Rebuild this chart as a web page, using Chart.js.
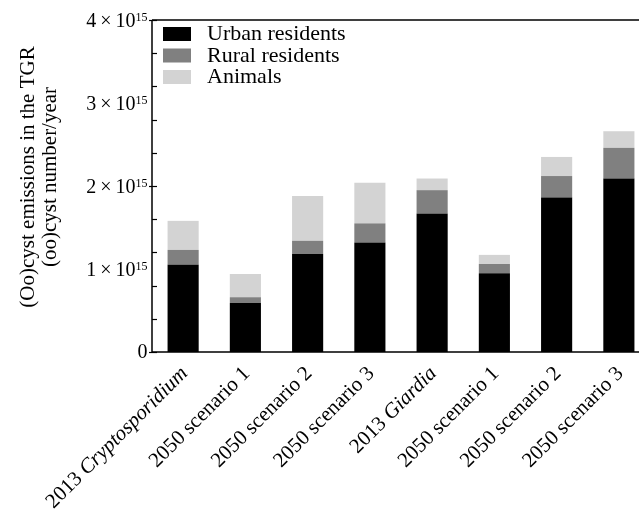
<!DOCTYPE html>
<html>
<head>
<meta charset="utf-8">
<script src="https://cdn.jsdelivr.net/npm/chart.js@4"></script>
<style>
  html, body { margin: 0; padding: 0; background: #fff; overflow: hidden; }
  #wrap { width: 652px; height: 512px; }
</style>
</head>
<body>
<div id="wrap"><canvas id="c" width="652" height="512"></canvas></div>
<script>
// ---- data ----
const categories = ['2013 Cryptosporidium', '2050 scenario 1', '2050 scenario 2', '2050 scenario 3',
                    '2013 Giardia', '2050 scenario 1', '2050 scenario 2', '2050 scenario 3'];
const italicWords = ['Cryptosporidium', 'Giardia'];
const seriesNames = ['Urban residents', 'Rural residents', 'Animals'];
const urban   = [1.05e15, 0.59e15, 1.18e15, 1.32e15, 1.67e15, 0.95e15, 1.86e15, 2.09e15];
const rural   = [0.18e15, 0.07e15, 0.16e15, 0.23e15, 0.28e15, 0.11e15, 0.26e15, 0.37e15];
const animals = [0.35e15, 0.28e15, 0.54e15, 0.49e15, 0.14e15, 0.11e15, 0.23e15, 0.20e15];
const yTickValues = [0, 1e15, 2e15, 3e15, 4e15];
const yTickMant = ['0', '1', '2', '3', '4'];
const yTickExp  = ['', '15', '15', '15', '15'];
const yTitle = ['(Oo)cyst emissions in the TGR', '(oo)cyst number/year'];
const colors = ['#000000', '#808080', '#d3d3d3'];

const SERIF = '"Liberation Serif", "Times New Roman", serif';

const decor = {
  id: 'decor',
  afterDraw(chart) {
    const ctx = chart.ctx;
    const ca = chart.chartArea;
    const ys = chart.scales.y, xs = chart.scales.x;
    ctx.save();
    // axes frame
    ctx.strokeStyle = '#000';
    ctx.lineWidth = 1.5;
    ctx.beginPath();
    ctx.moveTo(ca.left, ca.top); ctx.lineTo(ca.left, ca.bottom); ctx.lineTo(ca.right, ca.bottom);
    ctx.moveTo(ca.left, ca.top); ctx.lineTo(ca.right, ca.top);
    ctx.stroke();
    // y ticks (minor every 0.2e15, inner)
    ctx.lineWidth = 1.2;
    ys.ticks.forEach(t => {
      const py = Math.round(ys.getPixelForValue(t.value)) + 0.5;
      const major = Math.abs(t.value / 1e15 - Math.round(t.value / 1e15)) < 1e-6;
      ctx.beginPath();
      ctx.moveTo(ca.left - (major ? 3 : 0), py);
      ctx.lineTo(ca.left + 5, py);
      ctx.stroke();
    });
    // y tick labels: mantissa × 10^exp
    ctx.fillStyle = '#000';
    ctx.textBaseline = 'alphabetic';
    ctx.textAlign = 'left';
    yTickValues.forEach((v, i) => {
      const py = ys.getPixelForValue(v);
      let x = ca.left - 4.5;
      if (yTickExp[i]) {
        ctx.font = '12px ' + SERIF;
        const ew = ctx.measureText(yTickExp[i]).width;
        x -= ew;
        ctx.fillText(yTickExp[i], x, py + 0.5);
        ctx.font = '20px ' + SERIF;
        const pieces = [yTickMant[i], '\u00d7', '10'];
        const gaps = [4, 4, 0];
        const ws = pieces.map(p => ctx.measureText(p).width);
        let tot = ws.reduce((a, b) => a + b, 0) + gaps.reduce((a, b) => a + b, 0);
        let px = x - tot;
        pieces.forEach((p, k) => { ctx.fillText(p, px, py + 7); px += ws[k] + gaps[k]; });
      } else {
        ctx.font = '20px ' + SERIF;
        const w = ctx.measureText(yTickMant[i]).width;
        ctx.fillText(yTickMant[i], x - w, py + 6);
      }
    });
    // y title
    ctx.save();
    ctx.translate(0, 177);
    ctx.rotate(-Math.PI / 2);
    ctx.font = '21px ' + SERIF;
    ctx.textAlign = 'center';
    ctx.textBaseline = 'middle';
    ctx.fillText(yTitle[0], 0, 28);
    ctx.fillText(yTitle[1], 0, 50);
    ctx.restore();
    // x labels (rotated, with italic names)
    categories.forEach((lab, i) => {
      const cx = xs.getPixelForValue(i);
      const parts = lab.split(' ');
      ctx.save();
      ctx.translate(cx - 6, ca.bottom + 11);
      ctx.rotate(-Math.PI / 4);
      ctx.textAlign = 'left';
      ctx.textBaseline = 'top';
      const segs = parts.map((p, k) => ({
        text: (k ? ' ' : '') + p,
        font: (italicWords.includes(p) ? 'italic ' : '') + '21px ' + SERIF
      }));
      let total = 0;
      segs.forEach(s => { ctx.font = s.font; s.w = ctx.measureText(s.text).width; total += s.w; });
      let x = -total;
      segs.forEach(s => { ctx.font = s.font; ctx.fillText(s.text, x, 0); x += s.w; });
      ctx.restore();
    });
    // legend
    chart.data.datasets.forEach((ds, i) => {
      const by = ca.top + 7 + i * 21.5;
      ctx.fillStyle = ds.backgroundColor;
      ctx.fillRect(ca.left + 11, by, 28, 14);
      ctx.fillStyle = '#000';
      ctx.font = '22px ' + SERIF;
      ctx.textAlign = 'left';
      ctx.textBaseline = 'middle';
      ctx.fillText(ds.label, ca.left + 55, by + 7.5);
    });
    ctx.restore();
  }
};

new Chart(document.getElementById('c'), {
  type: 'bar',
  data: {
    labels: categories,
    datasets: [
      { label: seriesNames[0], data: urban, backgroundColor: colors[0] },
      { label: seriesNames[1], data: rural, backgroundColor: colors[1] },
      { label: seriesNames[2], data: animals, backgroundColor: colors[2] }
    ]
  },
  options: {
    responsive: false,
    animation: false,
    devicePixelRatio: 1,
    layout: { padding: { left: 152, top: 20, right: 2, bottom: 160 } },
    datasets: { bar: { categoryPercentage: 1, barPercentage: 0.5, borderWidth: 0 } },
    plugins: { legend: { display: false }, tooltip: { enabled: false }, title: { display: false } },
    scales: {
      x: { stacked: true, display: false, offset: true },
      y: { stacked: true, display: false, min: 0, max: 4e15, ticks: { stepSize: 2e14 } }
    }
  },
  plugins: [decor]
});
</script>
</body>
</html>
